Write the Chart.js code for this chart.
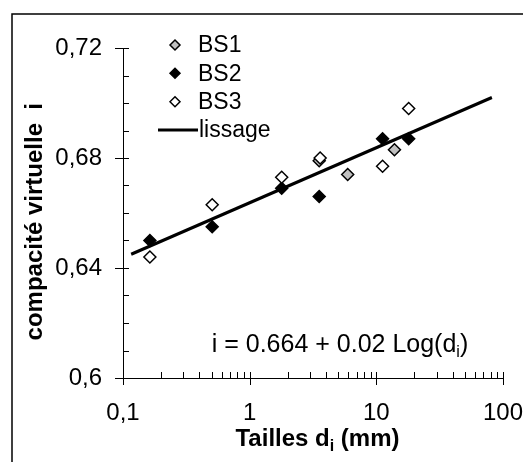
<!DOCTYPE html>
<html>
<head>
<meta charset="utf-8">
<script src="https://cdn.jsdelivr.net/npm/chart.js@4.4.1/dist/chart.umd.min.js"></script>
<style>
  body { margin: 0; background: #fff; }
  canvas { display: block; }
</style>
</head>
<body>
<canvas id="myChart" width="523" height="462"></canvas>
<script>
// data
const sizesBS1 = [3.54, 5.94, 13.9];
const valuesBS1 = [0.679, 0.674, 0.683];
const sizesBS2 = [0.163, 0.506, 1.79, 3.54, 11.2, 18.0];
const valuesBS2 = [0.650, 0.655, 0.669, 0.666, 0.687, 0.687];
const sizesBS3 = [0.163, 0.506, 1.79, 3.6, 11.2, 18.0];
const valuesBS3 = [0.644, 0.663, 0.673, 0.680, 0.677, 0.698];
const sizesLissage = [0.116, 81.7];
const valuesLissage = [0.645, 0.702];

// ticks
const xTickValues = [0.1, 1, 10, 100];
const xTickLabels = ['0,1', '1', '10', '100'];
const yTickValues = [0.6, 0.64, 0.68, 0.72];
const yTickLabels = ['0,6', '0,64', '0,68', '0,72'];

const FONT = '"Liberation Sans", Arial, sans-serif';

function toPoints(xs, ys) {
  return xs.map((x, i) => ({x: x, y: ys[i]}));
}

// minor ticks of the log axis : 1..9 in each decade
function logTickList(){
  const list = [];
  for (let d = 0; d < xTickValues.length - 1; d++) {
    for (let k = 1; k <= 9; k++) list.push({value: xTickValues[d] * k});
  }
  list.push({value: xTickValues[xTickValues.length - 1]});
  return list;
}

function isMajorX(v){
  return xTickValues.some(t => Math.abs(t - v) < t * 1e-6);
}

// diamond marker
function diamond(ctx, x, y, r, fill){
  ctx.beginPath();
  ctx.moveTo(x - r, y);
  ctx.lineTo(x, y - r);
  ctx.lineTo(x + r, y);
  ctx.lineTo(x, y + r);
  ctx.closePath();
  ctx.fillStyle = fill;
  ctx.fill();
  ctx.lineWidth = 1.5;
  ctx.strokeStyle = '#000';
  ctx.stroke();
}

// ticks, titles, legend, equation, frame
const extras = {
  id: 'extras',
  afterDraw(chart){
    const ctx = chart.ctx;
    const xs = chart.scales.x, ys = chart.scales.y;
    const a = chart.chartArea;
    ctx.save();
    ctx.strokeStyle = '#000';
    ctx.lineWidth = 1;

    xs.ticks.forEach(t => {
      const px = Math.round(xs.getPixelForValue(t.value)) + 0.5;
      const major = isMajorX(t.value);
      ctx.beginPath();
      ctx.moveTo(px, a.bottom - 6);
      ctx.lineTo(px, a.bottom + (major ? 7 : 0));
      ctx.stroke();
    });
    ys.ticks.forEach(t => {
      const py = Math.round(ys.getPixelForValue(t.value)) + 0.5;
      const major = Math.round(t.value * 100) % 4 === 0;
      ctx.beginPath();
      ctx.moveTo(a.left - (major ? 8 : 0), py);
      ctx.lineTo(a.left + 6, py);
      ctx.stroke();
    });

    // frame (cut off on the right and bottom)
    ctx.lineWidth = 1.5;
    ctx.strokeRect(12, 14, 530, 470);

    ctx.fillStyle = '#000';
    ctx.textBaseline = 'alphabetic';

    // x title
    const p1 = 'Tailles d', p3 = ' (mm)';
    ctx.font = 'bold 24px ' + FONT;
    const w1 = ctx.measureText(p1).width, w3 = ctx.measureText(p3).width;
    ctx.font = 'bold 16px ' + FONT;
    const w2 = ctx.measureText('i').width;
    let x0 = 317.5 - (w1 + w2 + w3) / 2;
    ctx.textAlign = 'left';
    ctx.font = 'bold 24px ' + FONT;
    ctx.fillText(p1, x0, 446);
    ctx.font = 'bold 16px ' + FONT;
    ctx.fillText('i', x0 + w1, 451);
    ctx.font = 'bold 24px ' + FONT;
    ctx.fillText(p3, x0 + w1 + w2, 446);

    // y title
    ctx.save();
    ctx.translate(42, 221.7);
    ctx.rotate(-Math.PI / 2);
    ctx.textAlign = 'center';
    ctx.font = 'bold 24px ' + FONT;
    ctx.fillText('compacité virtuelle  i', 0, 0);
    ctx.restore();

    // equation
    ctx.textAlign = 'left';
    ctx.font = '25px ' + FONT;
    const e1 = 'i = 0.664 + 0.02 Log(d';
    const we1 = ctx.measureText(e1).width;
    ctx.fillText(e1, 211.7, 351.7);
    ctx.font = '16px ' + FONT;
    const we2 = ctx.measureText('i').width;
    ctx.fillText('i', 211.7 + we1, 356.7);
    ctx.font = '25px ' + FONT;
    ctx.fillText(')', 211.7 + we1 + we2, 351.7);

    // legend
    const ds = chart.data.datasets;
    ctx.font = '23px ' + FONT;
    ctx.textBaseline = 'middle';
    const rows = [45, 73.3, 101.7];
    for (let i = 0; i < 3; i++) {
      diamond(ctx, 175, rows[i], 5, ds[i + 1].backgroundColor);
      ctx.fillStyle = '#000';
      ctx.fillText(ds[i + 1].label, 198, rows[i] + 1);
    }
    ctx.lineWidth = 3;
    ctx.beginPath();
    ctx.moveTo(158, 130);
    ctx.lineTo(198, 130);
    ctx.stroke();
    ctx.fillText(ds[0].label, 199, 131);

    ctx.restore();
  }
};

const pointStyle = {
  pointStyle: 'rectRot',
  pointRadius: 6,
  pointHoverRadius: 6,
  borderColor: '#000',
  pointBorderWidth: 1.5,
  showLine: false
};

const data = {
  datasets: [
    {
      label: 'lissage',
      type: 'line',
      data: toPoints(sizesLissage, valuesLissage),
      borderColor: '#000',
      borderWidth: 3,
      pointRadius: 0,
      fill: false,
      order: 0
    },
    Object.assign({label: 'BS1', data: toPoints(sizesBS1, valuesBS1), backgroundColor: '#c0c0c0', order: 3}, pointStyle),
    Object.assign({label: 'BS2', data: toPoints(sizesBS2, valuesBS2), backgroundColor: '#000000', order: 2}, pointStyle),
    Object.assign({label: 'BS3', data: toPoints(sizesBS3, valuesBS3), backgroundColor: '#ffffff', order: 1}, pointStyle)
  ]
};

const config = {
  type: 'scatter',
  data,
  plugins: [extras],
  options: {
    responsive: false,
    animation: false,
    devicePixelRatio: 1,
    layout: { padding: { left: 0, top: 48, right: 20, bottom: 0 } },
    plugins: {
      legend: { display: false },
      tooltip: { enabled: false }
    },
    scales: {
      x: {
        type: 'logarithmic',
        min: 0.1,
        max: 100,
        afterBuildTicks: (scale) => { scale.ticks = logTickList(); },
        afterFit: (scale) => { scale.height = 84; scale.paddingLeft = 0; scale.paddingRight = 0; },
        grid: { display: false, drawTicks: false },
        border: { display: true, color: '#000', width: 1 },
        ticks: {
          autoSkip: false,
          maxRotation: 0,
          padding: 21,
          color: '#000',
          font: { family: FONT, size: 24 },
          callback: (v) => {
            const i = xTickValues.findIndex(t => Math.abs(t - v) < t * 1e-6);
            return i >= 0 ? xTickLabels[i] : '';
          }
        }
      },
      y: {
        min: 0.6,
        max: 0.72,
        afterFit: (scale) => { scale.width = 123; scale.paddingTop = 0; scale.paddingBottom = 0; },
        grid: { display: false, drawTicks: false },
        border: { display: true, color: '#000', width: 1 },
        ticks: {
          stepSize: 0.01,
          autoSkip: false,
          padding: 21,
          color: '#000',
          font: { family: FONT, size: 24 },
          callback: (v) => {
            const i = yTickValues.findIndex(t => Math.abs(t - v) < 1e-6);
            return i >= 0 ? yTickLabels[i] : '';
          }
        }
      }
    }
  }
};

const myChart = new Chart(document.getElementById('myChart'), config);
</script>
</body>
</html>
